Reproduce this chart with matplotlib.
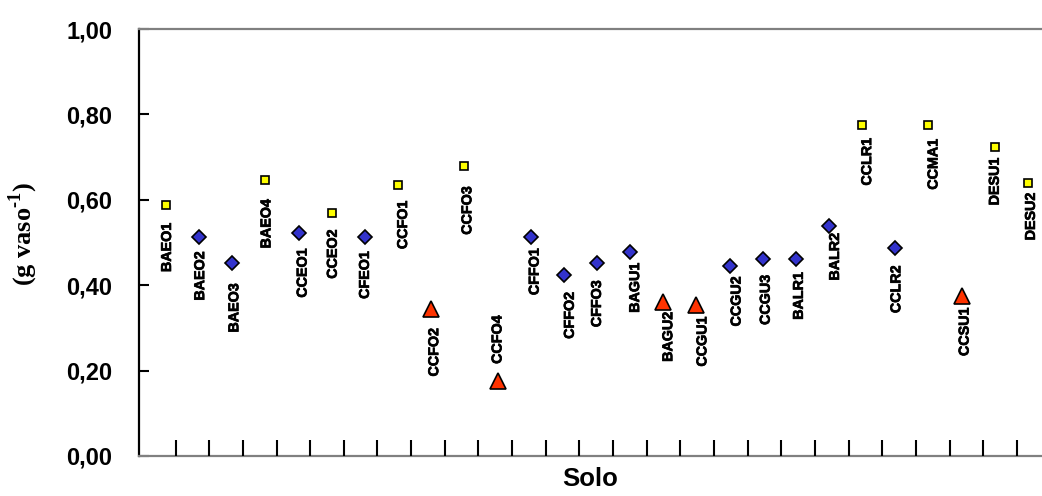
import matplotlib
matplotlib.use("Agg")
import matplotlib.pyplot as plt
import matplotlib.patheffects as pe
import numpy as np

# ---------------- data ----------------
solos = ["BAEO1", "BAEO2", "BAEO3", "BAEO4", "CCEO1", "CCEO2", "CFEO1", "CCFO1",
         "CCFO2", "CCFO3", "CCFO4", "CFFO1", "CFFO2", "CFFO3", "BAGU1", "BAGU2",
         "CCGU1", "CCGU2", "CCGU3", "BALR1", "BALR2", "CCLR1", "CCLR2", "CCMA1",
         "CCSU1", "DESU1", "DESU2"]
valores = [0.588, 0.512, 0.451, 0.646, 0.523, 0.570, 0.512, 0.635,
           0.344, 0.678, 0.176, 0.512, 0.424, 0.451, 0.478, 0.361,
           0.354, 0.446, 0.461, 0.461, 0.539, 0.775, 0.486, 0.775,
           0.375, 0.724, 0.640]
grupos = ["sq", "di", "di", "sq", "di", "sq", "di", "sq",
          "tr", "sq", "tr", "di", "di", "di", "di", "tr",
          "tr", "di", "di", "di", "di", "sq", "di", "sq",
          "tr", "sq", "sq"]
ytick_vals = [0.0, 0.2, 0.4, 0.6, 0.8, 1.0]
ytick_labels = ["0,00", "0,20", "0,40", "0,60", "0,80", "1,00"]
n_xticks = 26

# ---------------- layout / style ----------------
label_dx_px = [1, 1, 2, 1, 4, 1, 0, 5, 3, 3, 0, 4, 6, 0, 5, 5,
               6, 7, 3, 3, 6, 5, 1, 5, 3, 0, 3]
label_dy_px = [18, 14, 20, 19, 16, 17, 14, 16, 19, 20, -17, 11, 17, 17, 11, 10,
               12, 11, 16, 13, 7, 13, 17, 14, 12, 11, 10]
styles = {
    "sq": dict(marker="s", markersize=6.2, markerfacecolor="#FFFF00"),
    "di": dict(marker="D", markersize=7.2, markerfacecolor="#3333CC"),
    "tr": dict(marker="^", markersize=12, markerfacecolor="#FF3300"),
}

W, H, DPI = 1042, 496, 100
plt.rcParams["mathtext.fontset"] = "custom"
plt.rcParams["mathtext.rm"] = "Liberation Serif:bold"
plt.rcParams["mathtext.bf"] = "Liberation Serif:bold"

fig = plt.figure(figsize=(W / DPI, H / DPI), dpi=DPI)
fig.patch.set_facecolor("white")

left_px, right_px, top_px, bot_px = 139, 1042, 29, 456
ax = fig.add_axes([left_px / W, (H - bot_px) / H,
                   (right_px - left_px) / W, (bot_px - top_px) / H])

x = np.arange(len(solos))
vals = np.array(valores)
grp = np.array(grupos)
for g, st in styles.items():
    m = grp == g
    ax.plot(x[m], vals[m], linestyle="none", markeredgecolor="black",
            markeredgewidth=1.2, zorder=5, clip_on=False, **st)

px2pt = 72 / DPI
heavy = [pe.withStroke(linewidth=0.5, foreground="black")]
for i, name in enumerate(solos):
    dy = label_dy_px[i]
    va = "top" if dy >= 0 else "bottom"
    ax.annotate(name, (x[i], vals[i]),
                xytext=(label_dx_px[i] * px2pt, -dy * px2pt),
                textcoords="offset points", rotation=90, ha="center", va=va,
                fontsize=10.3, fontweight="bold", family="Liberation Sans",
                annotation_clip=False, path_effects=heavy)

step_px = 33.15
ax.set_xlim((left_px - 166) / step_px, (right_px - 166) / step_px)
ax.set_ylim(0, 1.0)
ax.set_xticks([])
ax.set_yticks(ytick_vals)
ax.set_yticklabels(ytick_labels, fontsize=17, fontweight="bold",
                   family="Liberation Sans")
ax.tick_params(axis="y", direction="in", length=7, width=1.5, pad=19,
               color="black")

ax.spines["right"].set_visible(False)
ax.spines["left"].set_color("black")
ax.spines["left"].set_linewidth(1.6)
ax.spines["top"].set_color("#808080")
ax.spines["top"].set_linewidth(1.6)
ax.spines["bottom"].set_color("#808080")
ax.spines["bottom"].set_linewidth(1.6)

ax.set_xlabel("Solo", fontsize=18.5, fontweight="bold", family="Liberation Sans",
              labelpad=8)

# category ticks on a twin axis
ax2 = ax.twiny()
ax2.set_xlim(-0.085, 26.74)
ax2.set_xticks(np.arange(1, n_xticks + 1))
ax2.xaxis.set_ticks_position("bottom")
ax2.tick_params(axis="x", direction="in", length=11.5, width=1.5,
                labelbottom=False, labeltop=False, color="black")
for s in ax2.spines.values():
    s.set_visible(False)

fig.text(23 / W, 1 - 234 / H, r"(g vaso$^{\text{-1}}$)", rotation=90,
         ha="center", va="center", fontsize=19, fontweight="bold",
         family="Liberation Serif")

fig.savefig("out.png", dpi=DPI)
